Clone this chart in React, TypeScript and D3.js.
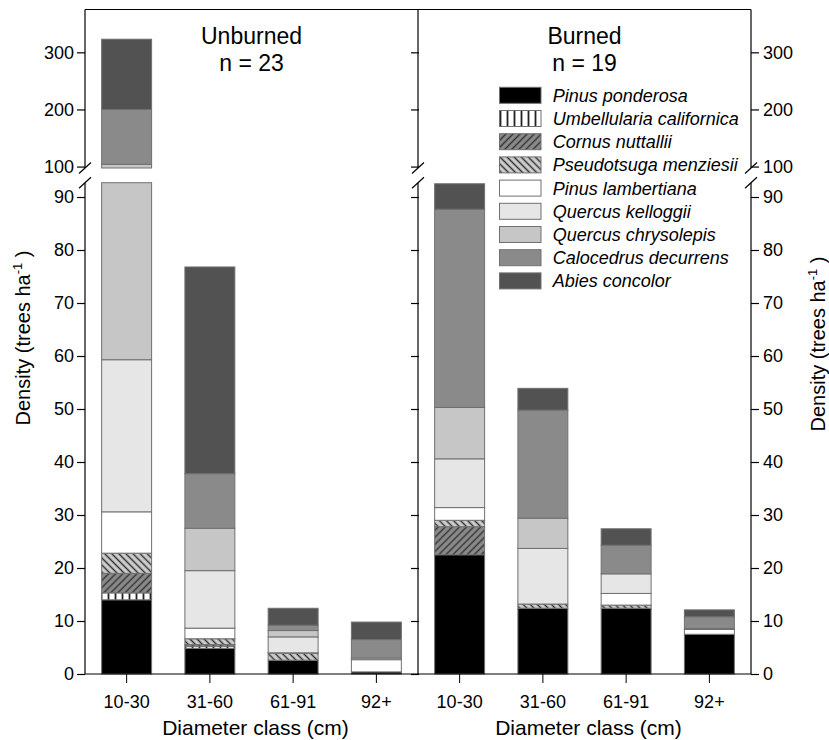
import React, { useEffect, useRef } from 'react';
import * as d3 from 'd3';

const classes = ['10-30', '31-60', '61-91', '92+'];

const species = [
  'Pinus ponderosa',
  'Umbellularia californica',
  'Cornus nuttallii',
  'Pseudotsuga menziesii',
  'Pinus lambertiana',
  'Quercus kelloggii',
  'Quercus chrysolepis',
  'Calocedrus decurrens',
  'Abies concolor',
];

// segment heights (trees/ha), species order as above
const unburned1030 = [14, 1.3, 3.7, 3.8, 7.8, 28.7, 44.7, 96, 123];
const unburned3160 = [4.85, 0.4, 0.3, 1.1, 2.0, 10.85, 8.0, 10.3, 39.0];
const unburned6191 = [2.6, 0, 0, 1.3, 0.1, 3.0, 1.2, 1.0, 3.2];
const unburned92 = [0.4, 0, 0, 0, 2.3, 0.3, 0, 3.5, 3.3];

const burned1030 = [22.5, 0, 5.3, 1.2, 2.4, 9.2, 9.7, 37.4, 4.8];
const burned3160 = [12.4, 0, 0, 0.8, 0, 10.5, 5.7, 20.4, 4.1];
const burned6191 = [12.4, 0, 0, 0.6, 2.2, 3.7, 0, 5.4, 3.1];
const burned92 = [7.5, 0, 0, 0, 0.9, 0.2, 0, 2.2, 1.3];

const lowTicks = [0, 10, 20, 30, 40, 50, 60, 70, 80, 90];
const highTicks = [100, 200, 300];

const panels = [
  { title: 'Unburned', n: 'n = 23', data: [unburned1030, unburned3160, unburned6191, unburned92] },
  { title: 'Burned', n: 'n = 19', data: [burned1030, burned3160, burned6191, burned92] },
];

const fills = ['#000000', 'url(#umb)', 'url(#cor)', 'url(#pse)', '#ffffff', '#e6e6e6', '#c6c6c6', '#8a8a8a', '#525252'];

const FONT = '"Liberation Sans", Arial, sans-serif';

const App: React.FC = () => {
  const svgRef = useRef<SVGSVGElement>(null);

  useEffect(() => {
    document.body.style.margin = '0';
    if (!svgRef.current) return;
    const svg = d3.select(svgRef.current);
    svg.selectAll('*').remove();

    const left = 85, mid = 418, right = 751, top = 9.5, bottom = 674;
    const lowTop = 182.7, highBottom = 168;

    const yLow = d3.scaleLinear().domain([0, 92.7]).range([bottom, lowTop]);
    const yHigh = d3.scaleLinear().domain([97.5, 375]).range([highBottom, top]);

    // patterns
    const defs = svg.append('defs');
    const umb = defs.append('pattern').attr('id', 'umb').attr('patternUnits', 'userSpaceOnUse')
      .attr('width', 7).attr('height', 7);
    umb.append('rect').attr('width', 7).attr('height', 7).attr('fill', '#fff');
    umb.append('line').attr('x1', 3.5).attr('x2', 3.5).attr('y1', 0).attr('y2', 7)
      .attr('stroke', '#222').attr('stroke-width', 1.8);

    const hatch = (id: string, bg: string, angle: number) => {
      const p = defs.append('pattern').attr('id', id).attr('patternUnits', 'userSpaceOnUse')
        .attr('width', 5).attr('height', 5).attr('patternTransform', `rotate(${angle})`);
      p.append('rect').attr('width', 5).attr('height', 5).attr('fill', bg);
      p.append('line').attr('x1', 2.5).attr('x2', 2.5).attr('y1', 0).attr('y2', 5)
        .attr('stroke', '#333').attr('stroke-width', 1.5);
    };
    hatch('cor', '#8c8c8c', 45);
    hatch('pse', '#cfcfcf', -45);

    panels.forEach((panel, pi) => {
      const x0 = pi === 0 ? left : mid;
      const x1 = pi === 0 ? mid : right;
      const x = d3.scaleBand().domain(classes).range([x0, x1]).paddingInner(0.4).paddingOuter(0.2);
      const g = svg.append('g');

      panel.data.forEach((vals, ci) => {
        let cum = 0;
        vals.forEach((v, si) => {
          const a = cum, b = cum + v;
          cum = b;
          if (v <= 0) return;
          const parts: [d3.ScaleLinear<number, number>, number, number][] = [];
          const lo = Math.min(b, yLow.domain()[1]);
          if (lo > a) parts.push([yLow, a, lo]);
          const ha = Math.max(a, yHigh.domain()[0]);
          const hb = Math.min(b, yHigh.domain()[1]);
          if (hb > ha) parts.push([yHigh, ha, hb]);
          parts.forEach(([s, pa, pb]) => {
            g.append('rect')
              .attr('x', x(classes[ci]) || 0)
              .attr('width', x.bandwidth())
              .attr('y', s(pb))
              .attr('height', s(pa) - s(pb))
              .attr('fill', fills[si])
              .attr('stroke', '#707070')
              .attr('stroke-width', 1);
          });
        });
      });

      // x axis
      const xa = svg.append('g').attr('transform', `translate(0,${bottom})`)
        .call(d3.axisBottom(x).tickSize(9).tickPadding(12).tickSizeOuter(0));
      xa.select('.domain').remove();
      xa.selectAll('line').attr('stroke', '#000');
      xa.selectAll('text').attr('font-size', 18).attr('font-family', FONT).attr('fill', '#000');

      svg.append('text')
        .attr('x', (x0 + x1) / 2 + 4).attr('y', 735)
        .attr('text-anchor', 'middle').attr('font-size', 21).attr('font-family', FONT)
        .text('Diameter class (cm)');

      svg.append('text')
        .attr('x', (x0 + x1) / 2).attr('y', 44)
        .attr('text-anchor', 'middle').attr('font-size', 23).attr('font-family', FONT)
        .text(panel.title);
      svg.append('text')
        .attr('x', (x0 + x1) / 2).attr('y', 71)
        .attr('text-anchor', 'middle').attr('font-size', 23).attr('font-family', FONT)
        .text(panel.n);
    });

    // frame and axes
    const line = (xa: number, ya: number, xb: number, yb: number) =>
      svg.append('line').attr('x1', xa).attr('y1', ya).attr('x2', xb).attr('y2', yb)
        .attr('stroke', '#000').attr('stroke-width', 1.2);

    line(left, top, right, top);
    line(left, bottom, right, bottom);
    [left, mid, right].forEach(xv => {
      line(xv, top, xv, highBottom);
      line(xv, lowTop, xv, bottom);
      line(xv - 6, highBottom + 5.5, xv + 6, highBottom - 5.5);
      line(xv - 6, lowTop + 5.5, xv + 6, lowTop - 5.5);
    });

    const styleAxis = (sel: d3.Selection<SVGGElement, unknown, null, undefined>) => {
      sel.select('.domain').remove();
      sel.selectAll('line').attr('stroke', '#000').attr('stroke-width', 1.2);
      sel.selectAll('text').attr('font-size', 18).attr('font-family', FONT).attr('fill', '#000');
    };

    const leftAx = svg.append('g').attr('transform', `translate(${left},0)`);
    leftAx.append('g').call(d3.axisLeft(yLow).tickValues(lowTicks).tickSize(8).tickPadding(3)).call(styleAxis);
    leftAx.append('g').call(d3.axisLeft(yHigh).tickValues(highTicks).tickSize(8).tickPadding(3)).call(styleAxis);

    const rightAx = svg.append('g').attr('transform', `translate(${right},0)`);
    rightAx.append('g').call(d3.axisRight(yLow).tickValues(lowTicks).tickSize(8).tickPadding(4)).call(styleAxis);
    rightAx.append('g').call(d3.axisRight(yHigh).tickValues(highTicks).tickSize(8).tickPadding(4)).call(styleAxis);

    const midAx = svg.append('g').attr('transform', `translate(${mid + 1},0)`);
    midAx.append('g').call(d3.axisLeft(yLow).tickValues(lowTicks).tickSize(8).tickFormat(() => '')).call(styleAxis);
    midAx.append('g').call(d3.axisLeft(yHigh).tickValues(highTicks).tickSize(8).tickFormat(() => '')).call(styleAxis);

    // y titles
    const yTitle = (xv: number, yv: number) => {
      const t = svg.append('text')
        .attr('transform', `translate(${xv},${yv}) rotate(-90)`)
        .attr('text-anchor', 'middle').attr('font-size', 20).attr('font-family', FONT);
      t.append('tspan').text('Density (trees ha');
      t.append('tspan').attr('font-size', 13).attr('dy', -8).text('-1');
      t.append('tspan').attr('dy', 8).text(' )');
    };
    yTitle(30, 338);
    yTitle(825, 344);

    // legend
    const legend = svg.append('g');
    species.forEach((name, i) => {
      const yv = 87.3 + i * 23.2;
      legend.append('rect')
        .attr('x', 499.5).attr('y', yv).attr('width', 41.5).attr('height', 16)
        .attr('fill', fills[i]).attr('stroke', '#707070').attr('stroke-width', 1);
      legend.append('text')
        .attr('x', 552.7).attr('y', yv + 14.4)
        .attr('font-size', 18).attr('font-style', 'italic').attr('font-family', FONT)
        .text(name);
    });
  }, []);

  return <svg ref={svgRef} width={829} height={740} style={{ display: 'block' }} />;
};

export default App;
